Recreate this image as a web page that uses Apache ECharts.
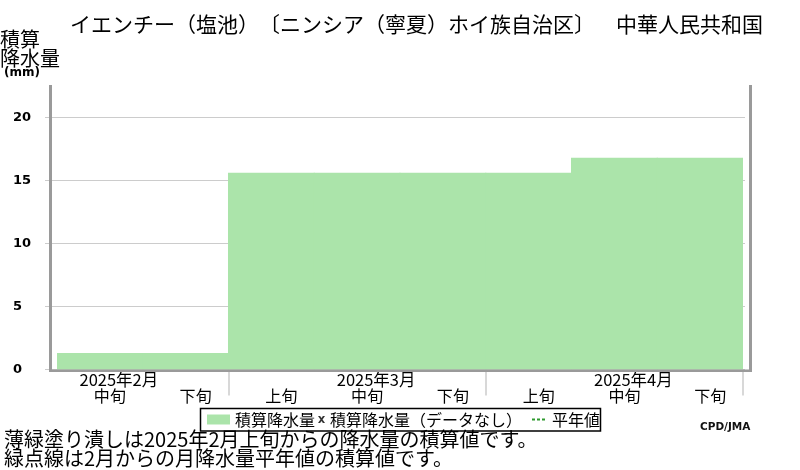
<!DOCTYPE html>
<html>
<head>
<meta charset="utf-8">
<script src="https://cdn.jsdelivr.net/npm/echarts@6/dist/echarts.min.js"></script>
<style>html,body{margin:0;padding:0;background:#fff;}#c{width:800px;height:470px;}</style>
</head>
<body>
<div id="c"></div>
<script>
// ---- data ----
const categories = ['2025-02-2', '2025-02-3', '2025-03-1', '2025-03-2', '2025-03-3', '2025-04-1', '2025-04-2', '2025-04-3'];
const dekadLabels = ['中旬', '下旬', '上旬', '中旬', '下旬', '上旬', '中旬', '下旬'];
const monthLabels = ['2025年2月', '2025年2月', '2025年3月', '2025年3月', '2025年3月', '2025年4月', '2025年4月', '2025年4月'];
const accumPrecip = [1.3, 1.3, 15.6, 15.6, 15.6, 15.6, 16.8, 16.8];
const noDataAccum = [];
const normalAccum = [];
const yTickValues = [0, 5, 10, 15, 20];

const titleText = 'イエンチー（塩池）〔ニンシア（寧夏）ホイ族自治区〕　中華人民共和国';
const note1 = '薄緑塗り潰しは2025年2月上旬からの降水量の積算値です。';
const note2 = '緑点線は2月からの月降水量平年値の積算値です。';
const legendNames = ['積算降水量', '積算降水量（データなし）', '平年値'];

const JP = '"Noto Sans CJK JP", "DejaVu Sans", sans-serif';
const GREEN = '#abe4aa';
const FRAME = '#9a9a9a';

// wrap full-width punctuation in its own rich token so each keeps a full-width cell
function monoPunct(s) {
  return s.replace(/([（）〔〕　])/g, '{p|$1}');
}

const chart = echarts.init(document.getElementById('c'), null, {renderer: 'canvas'});

const xIcon = 'path://M0,0 L3,0 L5,3 L7,0 L10,0 L6.5,5 L10,10 L7,10 L5,7 L3,10 L0,10 L3.5,5 Z';
const legendText = {fontFamily: JP, fontSize: 16, color: '#000', rich: {p: {fontFamily: JP, fontSize: 16, color: '#000'}}};

const option = {
  animation: false,
  backgroundColor: '#fff',
  title: {
    text: monoPunct(titleText),
    left: 70, top: 14, padding: 0,
    textStyle: {fontFamily: JP, fontSize: 21, fontWeight: 'normal', color: '#000',
      rich: {p: {fontFamily: JP, fontSize: 21, fontWeight: 'normal', color: '#000'}}}
  },
  grid: [
    {left: 57, right: 57, top: 117.3, bottom: 100.5},
    {left: 45, right: 55, top: 117.3, bottom: 100.5}
  ],
  xAxis: [
    {
      gridIndex: 0, type: 'category', data: categories, boundaryGap: true,
      axisLine: {show: false},
      axisTick: {
        show: true, length: 26,
        interval: function (i) { return i === 2 || i === 5; },
        lineStyle: {color: '#cccccc', width: 1.5}
      },
      axisLabel: {
        interval: 0, margin: 18, padding: [0, 0, 0, 20],
        formatter: function (v, i) { return dekadLabels[i]; },
        fontFamily: JP, fontSize: 16, color: '#000'
      },
      splitLine: {show: false}
    },
    {
      gridIndex: 0, type: 'category', data: categories, boundaryGap: true, position: 'bottom',
      axisLine: {show: false}, axisTick: {show: false},
      axisLabel: {
        interval: function (i) { return i === 0 || i === 3 || i === 6; },
        margin: 2, padding: [0, 0, 0, 38],
        formatter: function (v, i) { return monthLabels[i]; },
        fontFamily: JP, fontSize: 16.5, color: '#000'
      },
      splitLine: {show: false}
    },
    {gridIndex: 1, type: 'value', min: 0, max: 1, show: false}
  ],
  yAxis: [
    {gridIndex: 0, type: 'value', min: yTickValues[0], max: yTickValues[yTickValues.length - 1], show: false},
    {
      gridIndex: 1, type: 'value', min: yTickValues[0], max: yTickValues[yTickValues.length - 1], interval: 5,
      axisLine: {show: false}, axisTick: {show: false},
      splitLine: {show: true, lineStyle: {color: '#cccccc', width: 1}},
      axisLabel: {
        align: 'left', margin: 32,
        fontFamily: '"DejaVu Sans", sans-serif', fontSize: 13, fontWeight: 'bold', color: '#000'
      }
    }
  ],
  legend: [
    {
      data: [{name: legendNames[0], icon: 'rect'}],
      left: 207, top: 411.5, padding: 0, itemWidth: 23, itemHeight: 10,
      selectedMode: false, textStyle: legendText
    },
    {
      data: [{name: legendNames[1], icon: xIcon}],
      left: 318, top: 411.5, padding: 0, itemWidth: 7, itemHeight: 7,
      selectedMode: false, textStyle: legendText,
      formatter: function (n) { return monoPunct(n); }
    },
    {
      data: [{name: legendNames[2]}],
      left: 531, top: 411.5, padding: 0, itemWidth: 15, itemHeight: 10,
      selectedMode: false, textStyle: legendText,
      itemStyle: {color: 'rgba(0,0,0,0)', borderColor: 'rgba(0,0,0,0)', borderWidth: 0},
      lineStyle: {color: '#2f9a2f', width: 2, type: [3, 2]}
    }
  ],
  series: [
    {
      name: legendNames[0], type: 'bar', xAxisIndex: 0, yAxisIndex: 0,
      data: accumPrecip, barWidth: '101.2%',
      itemStyle: {color: GREEN}, z: 2
    },
    {
      name: legendNames[1], type: 'scatter', xAxisIndex: 0, yAxisIndex: 0,
      data: noDataAccum, symbol: xIcon, symbolSize: 7,
      itemStyle: {color: '#000'}
    },
    {
      name: legendNames[2], type: 'line', xAxisIndex: 0, yAxisIndex: 0,
      data: normalAccum, symbol: 'none', showSymbol: false,
      lineStyle: {color: '#2f9a2f', width: 2, type: 'dotted'},
      itemStyle: {color: '#2f9a2f'}
    }
  ],
  graphic: [
    // chart frame (left, bottom, right)
    {type: 'rect', shape: {x: 49, y: 85, width: 3, height: 287}, style: {fill: FRAME}, z: 50, silent: true},
    {type: 'rect', shape: {x: 49, y: 369.5, width: 703, height: 2.5}, style: {fill: FRAME}, z: 50, silent: true},
    {type: 'rect', shape: {x: 749, y: 85, width: 3, height: 287}, style: {fill: FRAME}, z: 50, silent: true},
    // legend box
    {type: 'rect', shape: {x: 200.5, y: 408.5, width: 400, height: 22.5}, style: {fill: 'none', stroke: '#000', lineWidth: 1.5}, z: 40, silent: true},
    // y-axis name
    {type: 'text', left: 0, top: 29, style: {text: '積算\n降水量', font: '20px ' + JP, lineHeight: 19, fill: '#000'}, z: 10},
    {type: 'text', left: 4, top: 67, style: {text: '(mm)', font: 'bold 12px "DejaVu Sans", sans-serif', fill: '#000'}, z: 10},
    // credit
    {type: 'text', left: 700, top: 422, style: {text: 'CPD/JMA', font: 'bold 10.5px "DejaVu Sans", sans-serif', fill: '#111'}, z: 10},
    // notes
    {type: 'text', left: 4, top: 429, style: {text: note1 + '\n' + note2, font: '20px ' + JP, lineHeight: 19, fill: '#000'}, z: 10}
  ]
};

chart.setOption(option);
</script>
</body>
</html>
